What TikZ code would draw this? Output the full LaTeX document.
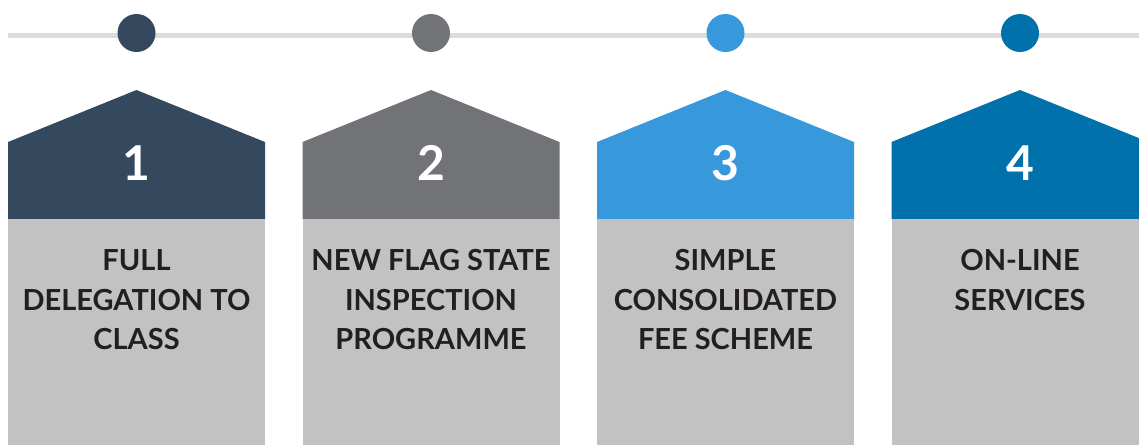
\documentclass[tikz,border=0pt]{standalone}
\usepackage{fontspec}
\setmainfont{Lato}
\usetikzlibrary{calc}
\definecolor{stepone}{HTML}{34495E}
\definecolor{steptwo}{HTML}{727376}
\definecolor{stepthree}{HTML}{3799DC}
\definecolor{stepfour}{HTML}{0071AB}
\definecolor{boxgray}{HTML}{C2C2C2}
\definecolor{linegray}{HTML}{DADDDE}
\definecolor{inkdark}{HTML}{231F20}

\begin{document}
\begin{tikzpicture}[x=1pt,y=-1pt,
    dot/.style={circle, minimum size=38pt, inner sep=0pt},
    num/.style={anchor=base, inner sep=0pt, text=white,
        font=\fontsize{48}{48}\selectfont\bfseries},
    caption/.style={anchor=north, inner sep=0pt, align=center, text=inkdark,
        font=\fontsize{29}{39.5}\selectfont\bfseries}]
    \useasboundingbox (0,0) rectangle (1139,445);
    \clip (0,0) rectangle (1139,445);
    \coordinate (start) at (8,35.5);
    \coordinate (end) at (1139,35.5);
    \draw[line width=5pt, color=linegray] (start) -- (end);
    \foreach \n/\x/\c/\t in {1/8/stepone/{FULL\\DELEGATION TO\\CLASS},
            2/302.5/steptwo/{NEW FLAG STATE\\INSPECTION\\PROGRAMME},
            3/597/stepthree/{SIMPLE\\CONSOLIDATED\\FEE SCHEME},
            4/891.5/stepfour/{ON-LINE\\SERVICES}}
    {
        \fill[\c] (\x,219) -- (\x,142) -- (\x+128.5,90) -- (\x+257,142) -- (\x+257,219) -- cycle;
        \fill[boxgray] (\x,219) rectangle (\x+257,445);
        \node[dot, fill=\c] (dot\n) at (\x+128.5,33) {};
        \node[num] (num\n) at (\x+128.5,180) {\n};
        \node[caption] (text\n) at (\x+128.5,249.5) {\t};
    }
\end{tikzpicture}
\end{document}
